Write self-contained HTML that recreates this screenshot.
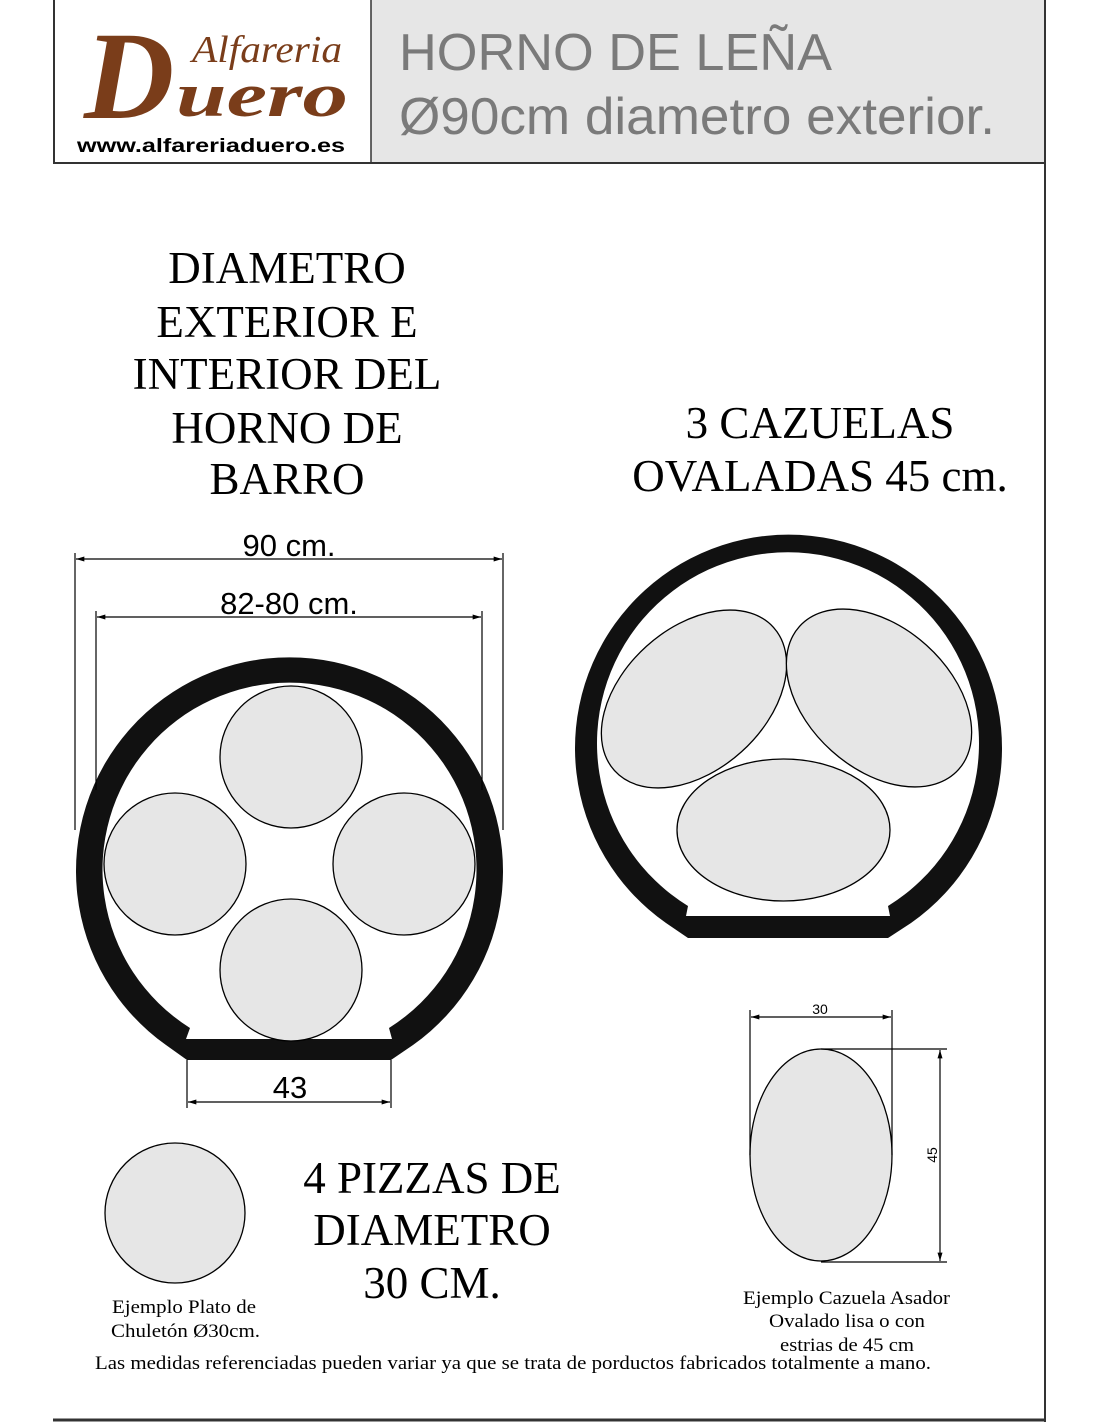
<!DOCTYPE html>
<html><head><meta charset="utf-8"><style>
html,body{margin:0;padding:0;background:#fff;}
svg{display:block;}
</style></head><body>
<svg width="1100" height="1422" viewBox="0 0 1100 1422" xmlns="http://www.w3.org/2000/svg">
<defs>
<marker id="ar" viewBox="0 0 10 6" refX="10" refY="3" markerWidth="14" markerHeight="5" orient="auto-start-reverse" markerUnits="userSpaceOnUse"><path d="M0,0 L10,3 L0,6 z" fill="#000"/></marker>
</defs>
<rect width="1100" height="1422" fill="#fff"/>
<!-- header -->
<rect x="371" y="0" width="674" height="162" fill="#e6e6e6"/>
<line x1="54" y1="0" x2="54" y2="163" stroke="#333" stroke-width="2"/>
<line x1="371" y1="0" x2="371" y2="163" stroke="#333" stroke-width="1.5"/>
<line x1="53" y1="163" x2="1046" y2="163" stroke="#333" stroke-width="2"/>
<line x1="1045" y1="0" x2="1045" y2="1422" stroke="#333" stroke-width="2"/>
<line x1="53" y1="1420" x2="1046" y2="1420" stroke="#333" stroke-width="3"/>
<text x="399" y="70" font-family="Liberation Sans, sans-serif" font-size="52" fill="#7a7a7a" textLength="433" lengthAdjust="spacingAndGlyphs">HORNO DE LEÑA</text>
<text x="399" y="134" font-family="Liberation Sans, sans-serif" font-size="52" fill="#7a7a7a" textLength="596" lengthAdjust="spacingAndGlyphs">Ø90cm diametro exterior.</text>
<!-- logo -->
<text x="84" y="118" font-family="Liberation Serif, serif" font-style="italic" font-weight="bold" font-size="125" fill="#7a3d1a">D</text>
<text x="176" y="116" font-family="Liberation Serif, serif" font-style="italic" font-weight="bold" font-size="62" fill="#7a3d1a" textLength="172" lengthAdjust="spacingAndGlyphs">uero</text>
<text x="192" y="62" font-family="Liberation Serif, serif" font-style="italic" font-size="38" fill="#7a3d1a" textLength="150" lengthAdjust="spacingAndGlyphs">Alfareria</text>
<text x="77" y="152" font-family="Liberation Sans, sans-serif" font-weight="bold" font-size="19" fill="#000" textLength="268" lengthAdjust="spacingAndGlyphs">www.alfareriaduero.es</text>
<!-- titles -->
<g font-family="Liberation Serif, serif" font-size="45" fill="#000" text-anchor="middle">
<text x="287" y="283">DIAMETRO</text>
<text x="287" y="337">EXTERIOR E</text>
<text x="287" y="389">INTERIOR DEL</text>
<text x="287" y="443">HORNO DE</text>
<text x="287" y="494">BARRO</text>
<text x="820" y="438">3 CAZUELAS</text>
<text x="820" y="491">OVALADAS 45 cm.</text>
<text x="432" y="1193">4 PIZZAS DE</text>
<text x="432" y="1245">DIAMETRO</text>
<text x="432" y="1298">30 CM.</text>
</g>
<!-- left oven -->
<path fill="#111" d="M187,1060 L166,1045 A213.5,213.5 0 1 1 413,1045 L391,1060 Z"/>
<path fill="#fff" d="M186,1039 L190,1028 A187,187 0 1 1 389,1028 L392,1039 Z"/>
<g fill="#e6e6e6" stroke="#000" stroke-width="1.3">
<circle cx="291" cy="757" r="71"/>
<circle cx="175" cy="864" r="71"/>
<circle cx="404" cy="864" r="71"/>
<circle cx="291" cy="970" r="71"/>
<circle cx="175" cy="1213" r="70"/>
</g>
<!-- left dims -->
<g stroke="#000" stroke-width="1.2" fill="none">
<line x1="75" y1="553" x2="75" y2="830"/>
<line x1="503" y1="553" x2="503" y2="830"/>
<line x1="76" y1="559" x2="502" y2="559" marker-start="url(#ar)" marker-end="url(#ar)"/>
<line x1="96" y1="611" x2="96" y2="790"/>
<line x1="482" y1="611" x2="482" y2="790"/>
<line x1="97" y1="617" x2="481" y2="617" marker-start="url(#ar)" marker-end="url(#ar)"/>
<line x1="187" y1="1060" x2="187" y2="1108"/>
<line x1="391" y1="1060" x2="391" y2="1108"/>
<line x1="188" y1="1102" x2="390" y2="1102" marker-start="url(#ar)" marker-end="url(#ar)"/>
</g>
<g font-family="Liberation Sans, sans-serif" font-size="31" fill="#000" text-anchor="middle">
<text x="289" y="556">90 cm.</text>
<text x="289" y="614">82-80 cm.</text>
<text x="290" y="1098">43</text>
</g>
<!-- right oven -->
<path fill="#111" d="M688,938 L666,923 A213.5,213.5 0 1 1 911,923 L888,938 Z"/>
<path fill="#fff" d="M686,916 L688,906 A191,191 0 1 1 888,906 L890,916 Z"/>
<g fill="#e6e6e6" stroke="#000" stroke-width="1.3">
<ellipse cx="694" cy="699" rx="107" ry="71" transform="rotate(-42 694 699)"/>
<ellipse cx="879" cy="698" rx="107" ry="71" transform="rotate(42 879 698)"/>
<ellipse cx="783.5" cy="830" rx="106.5" ry="71"/>
<ellipse cx="821" cy="1155" rx="71" ry="106"/>
</g>
<!-- right example dims -->
<g stroke="#000" stroke-width="1.2" fill="none">
<line x1="750" y1="1010" x2="750" y2="1155"/>
<line x1="892" y1="1010" x2="892" y2="1155"/>
<line x1="751" y1="1017" x2="891" y2="1017" marker-start="url(#ar)" marker-end="url(#ar)"/>
<line x1="821" y1="1049" x2="947" y2="1049"/>
<line x1="821" y1="1262" x2="947" y2="1262"/>
<line x1="940" y1="1050" x2="940" y2="1261" marker-start="url(#ar)" marker-end="url(#ar)"/>
</g>
<text x="820" y="1014" font-family="Liberation Sans, sans-serif" font-size="14" text-anchor="middle">30</text>
<text x="0" y="0" font-family="Liberation Sans, sans-serif" font-size="14" text-anchor="middle" transform="translate(937 1155) rotate(-90)">45</text>
<!-- captions -->
<g font-family="Liberation Serif, serif" font-size="19" fill="#000">
<text x="112" y="1313" textLength="144" lengthAdjust="spacingAndGlyphs">Ejemplo Plato de</text>
<text x="111" y="1337" textLength="149" lengthAdjust="spacingAndGlyphs">Chuletón Ø30cm.</text>
<text x="743" y="1304" textLength="207" lengthAdjust="spacingAndGlyphs">Ejemplo Cazuela Asador</text>
<text x="769" y="1327" textLength="156" lengthAdjust="spacingAndGlyphs">Ovalado lisa o con</text>
<text x="780" y="1351" textLength="134" lengthAdjust="spacingAndGlyphs">estrias de 45 cm</text>
</g>
<text x="95" y="1369" font-family="Liberation Serif, serif" font-size="19" fill="#000" textLength="836" lengthAdjust="spacingAndGlyphs">Las medidas referenciadas pueden variar ya que se trata de porductos fabricados totalmente a mano.</text>
</svg>
</body></html>
